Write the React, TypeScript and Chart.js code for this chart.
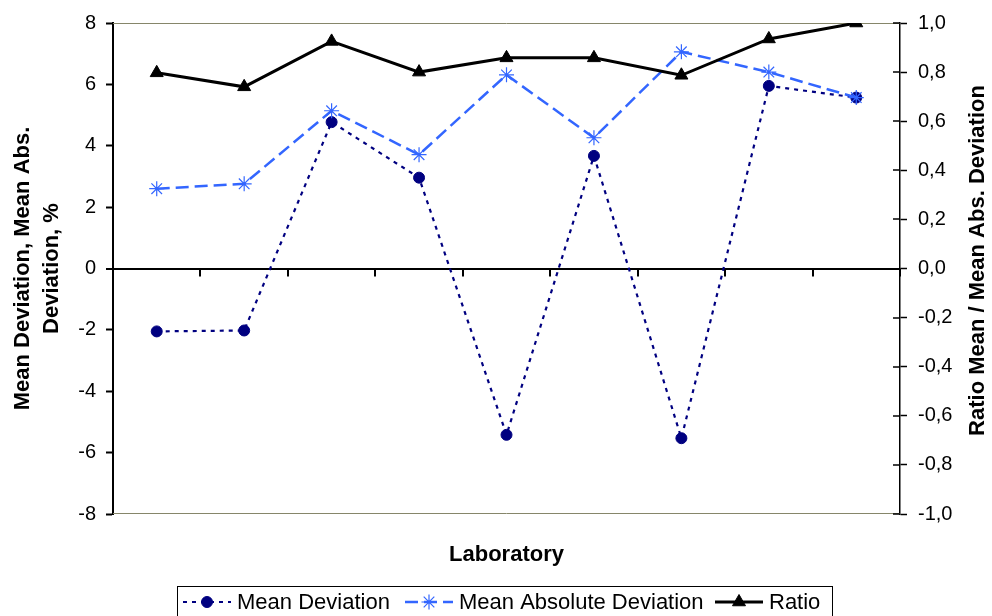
import React, { useEffect, useRef } from 'react';
import { Chart, registerables } from 'chart.js';
import { drawPoint } from 'chart.js/helpers';

Chart.register(...registerables);

// ---- data ----
const laboratories = ['1', '2', '3', '4', '5', '6', '7', '8', '9'];
const meanDeviation = [-2.05, -2.02, 4.77, 2.96, -5.42, 3.67, -5.53, 5.95, 5.57];
const meanAbsDeviation = [2.6, 2.76, 5.14, 3.71, 6.31, 4.26, 7.06, 6.4, 5.57];
const ratio = [0.797, 0.74, 0.925, 0.8, 0.858, 0.858, 0.787, 0.935, 1.0];

const leftMin = -8;
const leftMax = 8;
const leftStep = 2;
const rightMin = -1;
const rightMax = 1;
const rightStep = 0.2;

const seriesNames = ['Mean Deviation', 'Mean Absolute Deviation', 'Ratio'];
const leftAxisTitle = ['Mean Deviation, Mean Abs.', 'Deviation, %'];
const rightAxisTitle = 'Ratio Mean / Mean Abs. Deviation';
const xAxisTitle = 'Laboratory';

const FONT = 'Arial, "Liberation Sans", sans-serif';

const decorPlugin = {
  id: 'decor',
  beforeDatasetsDraw(chart: any) {
    const { ctx, chartArea: a, scales } = chart;
    const x = scales.x;
    const y = scales.y;
    const y1 = scales.y1;
    ctx.save();
    // plot area top and bottom frame
    ctx.strokeStyle = '#86866a';
    ctx.lineWidth = 1;
    ctx.beginPath();
    ctx.moveTo(a.left, Math.round(a.top) + 0.5);
    ctx.lineTo(a.right, Math.round(a.top) + 0.5);
    ctx.moveTo(a.left, Math.round(a.bottom) - 0.5);
    ctx.lineTo(a.right, Math.round(a.bottom) - 0.5);
    ctx.stroke();
    // category tick marks on the zero line
    const y0 = y.getPixelForValue(0);
    const p0 = x.getPixelForValue(0);
    const step = x.getPixelForValue(1) - p0;
    ctx.strokeStyle = '#000';
    ctx.lineWidth = 2;
    ctx.beginPath();
    for (let i = 0; i <= laboratories.length; i++) {
      const px = Math.round(p0 + (i - 0.5) * step);
      ctx.moveTo(px, y0);
      ctx.lineTo(px, y0 + 8);
    }
    ctx.stroke();
    // inner part of right axis ticks
    ctx.lineWidth = 1.5;
    ctx.beginPath();
    y1.ticks.forEach((t: any) => {
      const py = Math.round(y1.getPixelForValue(t.value));
      ctx.moveTo(a.right - 7, py);
      ctx.lineTo(a.right, py);
    });
    ctx.stroke();
    ctx.restore();
  },
  afterDraw(chart: any) {
    const { ctx, chartArea: a } = chart;
    ctx.save();
    // right axis title (reads bottom to top)
    ctx.fillStyle = '#000';
    ctx.font = `bold 22px ${FONT}`;
    ctx.textAlign = 'center';
    ctx.textBaseline = 'middle';
    ctx.translate(978, (a.top + a.bottom) / 2 - 8);
    ctx.rotate(-Math.PI / 2);
    ctx.fillText(rightAxisTitle, 0, 0);
    ctx.restore();

    // legend
    ctx.save();
    ctx.strokeStyle = '#000';
    ctx.lineWidth = 1;
    ctx.strokeRect(177.5, 586.5, 655, 40);
    const cy = 602;
    const starts = [183, 405, 715];
    const sampleLen = 48;
    chart.data.datasets.forEach((ds: any, i: number) => {
      const sx = starts[i];
      ctx.save();
      ctx.strokeStyle = ds.borderColor;
      ctx.lineWidth = ds.borderWidth;
      ctx.setLineDash(ds.borderDash || []);
      ctx.beginPath();
      ctx.moveTo(sx, cy);
      ctx.lineTo(sx + sampleLen, cy);
      ctx.stroke();
      ctx.setLineDash([]);
      ctx.fillStyle = ds.pointBackgroundColor;
      ctx.strokeStyle = ds.pointBorderColor;
      ctx.lineWidth = ds.pointBorderWidth;
      drawPoint(ctx, { pointStyle: ds.pointStyle, radius: ds.pointRadius, rotation: 0, borderWidth: ds.pointBorderWidth }, sx + sampleLen / 2, cy);
      ctx.restore();
      ctx.fillStyle = '#000';
      ctx.font = `22px ${FONT}`;
      ctx.textAlign = 'left';
      ctx.textBaseline = 'middle';
      ctx.fillText(ds.label, sx + sampleLen + 6, cy + 1);
    });
    ctx.restore();
  },
};

export default function App() {
  const ref = useRef<HTMLCanvasElement | null>(null);

  useEffect(() => {
    if (!ref.current) return;
    Chart.defaults.font.family = FONT;
    const chart = new Chart(ref.current, {
      type: 'line',
      data: {
        labels: laboratories,
        datasets: [
          {
            label: seriesNames[0],
            data: meanDeviation,
            yAxisID: 'y',
            borderColor: '#000080',
            borderWidth: 2.2,
            borderDash: [4, 5],
            pointStyle: 'circle',
            pointRadius: 5.5,
            pointBackgroundColor: '#000080',
            pointBorderColor: '#000080',
            pointBorderWidth: 1,
            tension: 0,
            order: 3,
          },
          {
            label: seriesNames[1],
            data: meanAbsDeviation,
            yAxisID: 'y',
            borderColor: '#3366ff',
            borderWidth: 2.5,
            borderDash: [13, 6],
            pointStyle: 'star',
            pointRadius: 7.5,
            pointBackgroundColor: '#3366ff',
            pointBorderColor: '#3366ff',
            pointBorderWidth: 1.2,
            tension: 0,
            order: 2,
          },
          {
            label: seriesNames[2],
            data: ratio,
            yAxisID: 'y1',
            borderColor: '#000000',
            borderWidth: 3,
            pointStyle: 'triangle',
            pointRadius: 7.5,
            pointBackgroundColor: '#000000',
            pointBorderColor: '#000000',
            pointBorderWidth: 1,
            tension: 0,
            order: 1,
          },
        ],
      },
      options: {
        responsive: false,
        animation: false,
        devicePixelRatio: 1,
        layout: { padding: { left: 0, right: 0, top: 22, bottom: 42 } },
        plugins: {
          legend: { display: false },
          tooltip: { enabled: false },
        },
        scales: {
          x: {
            type: 'category',
            offset: true,
            grid: { display: false },
            border: { display: false },
            ticks: { display: false },
            title: {
              display: true,
              text: xAxisTitle,
              color: '#000',
              font: { size: 22, weight: 'bold', family: FONT },
              padding: { top: 0, bottom: 6 },
            },
            afterFit(scale: any) {
              scale.height = 60;
            },
          },
          y: {
            position: 'left',
            min: leftMin,
            max: leftMax,
            ticks: {
              stepSize: leftStep,
              color: '#000',
              font: { size: 20, family: FONT },
              padding: 10,
            },
            grid: {
              drawOnChartArea: true,
              color: (c: any) => (c.tick && c.tick.value === 0 ? '#000' : 'rgba(0,0,0,0)'),
              lineWidth: (c: any) => (c.tick && c.tick.value === 0 ? 2 : 1),
              tickColor: '#000',
              tickWidth: 2,
              tickLength: 7,
            },
            border: { display: true, color: '#000', width: 2 },
            title: {
              display: true,
              text: leftAxisTitle,
              color: '#000',
              font: { size: 22, weight: 'bold', family: FONT, lineHeight: 1.3 },
              padding: { top: 9, bottom: 0 },
            },
            afterFit(scale: any) {
              scale.width = 113;
            },
          },
          y1: {
            position: 'right',
            min: rightMin,
            max: rightMax,
            ticks: {
              stepSize: rightStep,
              color: '#000',
              font: { size: 20, family: FONT },
              padding: 11,
              callback: (v: any) => Number(v).toFixed(1).replace('.', ','),
            },
            grid: {
              drawOnChartArea: false,
              tickColor: '#000',
              tickWidth: 1.5,
              tickLength: 7,
            },
            border: { display: true, color: '#000', width: 1.5 },
            afterFit(scale: any) {
              scale.width = 92;
            },
          },
        },
      },
      plugins: [decorPlugin],
    } as any);
    return () => chart.destroy();
  }, []);

  return (
    <div style={{ position: 'fixed', left: 0, top: 0, width: 992, height: 616, background: '#fff' }}>
      <canvas ref={ref} width={992} height={616} style={{ display: 'block' }} />
    </div>
  );
}
